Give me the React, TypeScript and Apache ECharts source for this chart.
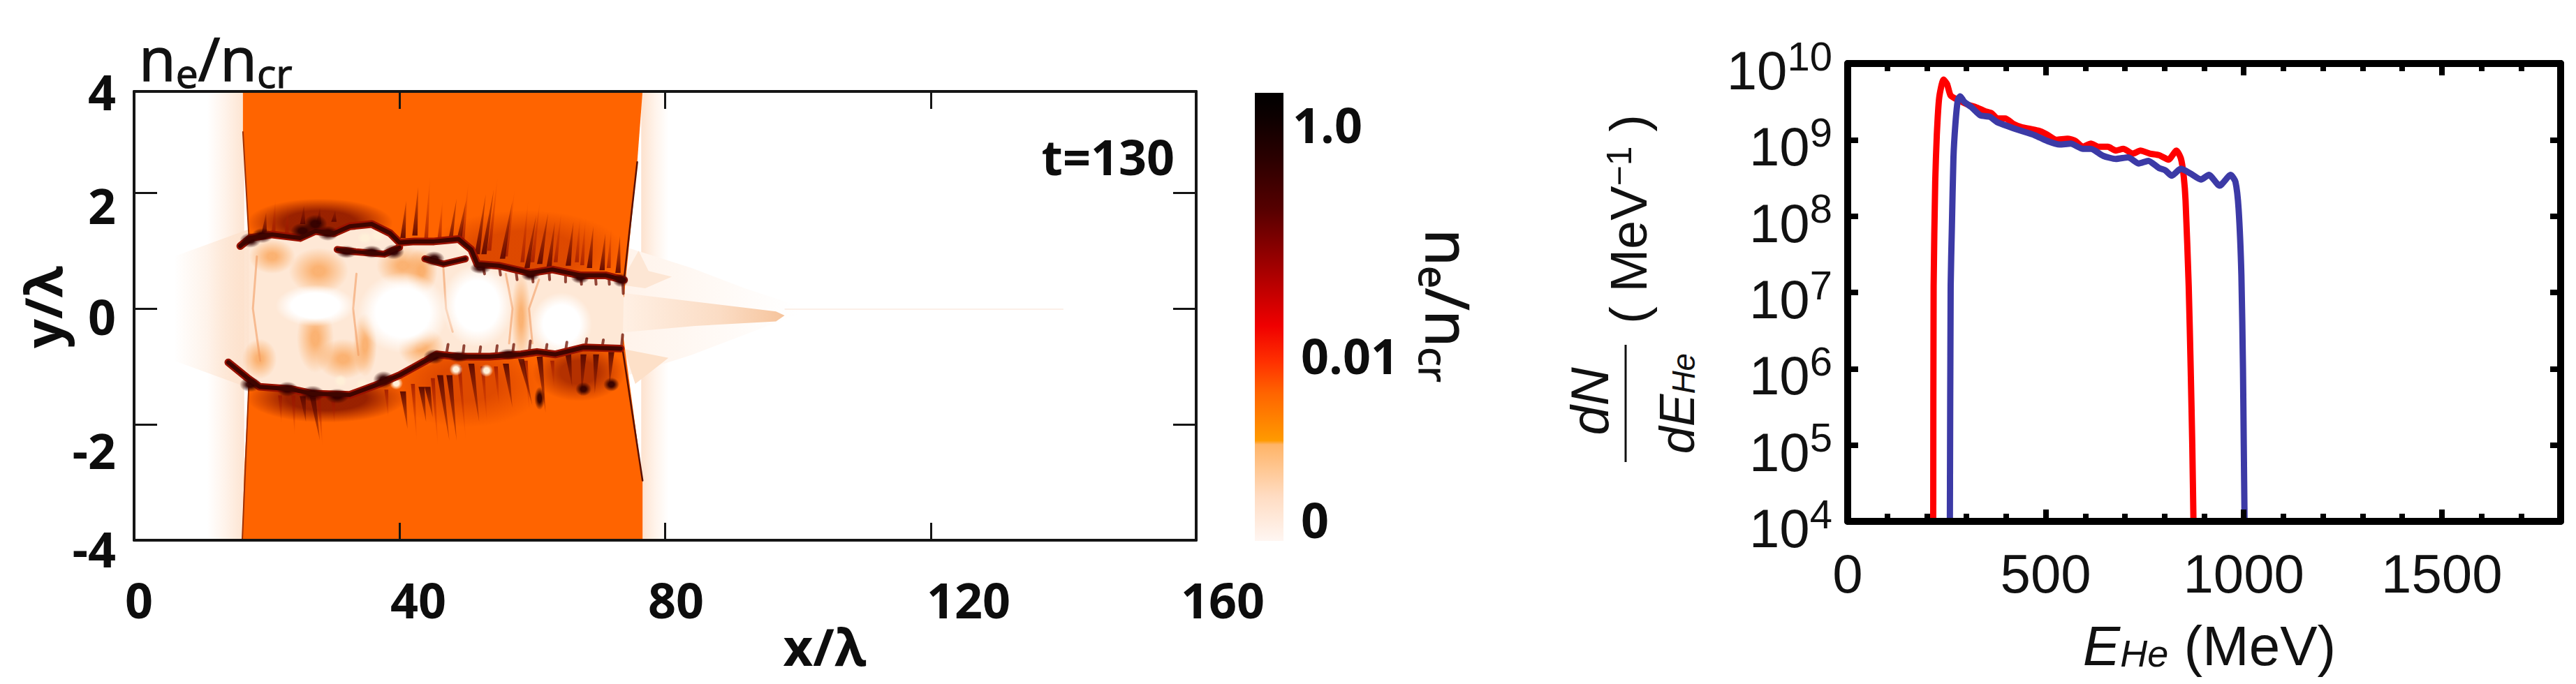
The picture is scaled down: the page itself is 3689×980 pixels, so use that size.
import React, { useEffect, useRef } from "react";
import * as echarts from "echarts";

// ---------- right panel: spectra ----------
const redEnergy = [216,217,221,225,231,242,251,260,280,304,323,347,363,378,398,418,437,481,500,527,555,575,594,614,633,657,677,696,720,739,763,786,810,830,841,848,853,861,866,870,873];
const redCounts = [1e4,1.2e7,2.8e8,1.15e9,3.55e9,6.17e9,5.37e9,3.8e9,3.3e9,2.88e9,2.69e9,2.37e9,2.24e9,1.9e9,1.9e9,1.62e9,1.48e9,1.32e9,1.2e9,1e9,1.035e9,9.66e8,8.1e8,8.9e8,8.1e8,8.1e8,7.24e8,7.6e8,6.6e8,7.24e8,6.6e8,6.3e8,5.5e8,7.24e8,5.75e8,3.47e8,1.62e8,1.2e7,1e6,1e5,1e4];
const blueEnergy = [258,260,263,267,272,278,284,294,312,335,359,378,425,472,504,535,563,594,614,645,677,708,735,759,786,802,818,841,865,892,912,939,967,979,987,994,998,1000,1002];
const blueCounts = [1e4,1.2e7,6.9e7,5.75e8,1.62e9,3.3e9,3.72e9,3.16e9,2.69e9,2.09e9,2e9,1.7e9,1.38e9,1.15e9,9.66e8,8.7e8,8.9e8,7.6e8,7.6e8,6.17e8,5.62e8,5.9e8,4.9e8,5.3e8,4.27e8,3.98e8,3.39e8,4.17e8,3.63e8,3.02e8,3.47e8,2.51e8,3.47e8,2.82e8,1.23e8,1.7e7,1e6,1e5,1e4];

// ---------- left panel: density map, outlines in (x/λ, y/λ) ----------
const xTickLabels = ["0", "40", "80", "120", "160"];
const yTickLabels = ["4", "2", "0", "-2", "-4"];
const colorbarLabels = ["1.0", "0.01", "0"];

const leftHalo = [[11,3.75],[16.6,3.75],[16.6,-4],[11,-4]];
const rightHalo = [[76.4,3.75],[80.5,3.75],[80.5,-4],[76.4,-4]];
const leftBulge = [[6,.9],[18,1.4],[18,-1.4],[6,-.9]];
const wakeGlow = [[73,1.1],[84,.7],[92,.35],[100,.05],[100,-.1],[92,-.45],[84,-.8],[73,-1.2]];
const plume = [[73.6,.27],[84.5,.12],[96.7,-.05],[98,-.12],[96.7,-.22],[84.5,-.3],[73.6,-.41]];
const centerLine = [[98,-.02],[140,-.02],[140,.0],[98,.0]];
const wingUpper = [[73.8,.55],[76,1.0],[77.5,.65],[81,.55],[77,.35],[74,.4]];
const wingLower = [[73.8,-.7],[80.5,-.85],[75.5,-1.3]];
const slabUpper = [[16.4,3.75],[16.4,3.0],[17.3,1.25],[20.8,1.0],[40,.5],[73.8,.2],[75.8,2.53],[76.6,3.75]];
const slabLower = [[16.3,-4],[16.6,-2.8],[17.3,-1.25],[40,-.5],[73.6,-.4],[76.6,-2.97],[76.6,-4]];
const topFilament = [[16,1.08],[17.5,1.22],[20.8,1.28],[25,1.22],[27.3,1.34],[30.1,1.3],[32.5,1.42],[35.8,1.46],[38.6,1.3],[40,1.14],[42.3,1.16],[45.2,1.16],[47,1.18],[48.9,1.2],[50.8,1.02],[51.7,.77],[55,.74],[59.7,.615],[63,.675],[67.2,.575],[71,.575],[73.8,.495]];
const lowerFilament = [[14.2,-.93],[17,-1.19],[18.9,-1.35],[23.6,-1.39],[26.9,-1.47],[32.5,-1.49],[36.7,-1.31],[40,-1.15],[43.8,-.91],[45.6,-.79],[48.9,-.83],[53.6,-.83],[58.3,-.79],[60.7,-.75],[63.5,-.79],[67.7,-.67],[73.3,-.69]];
const channelTop = [[17.3,1.2],[20.8,1.28],[25,1.22],[27.3,1.34],[30.1,1.3],[32.5,1.42],[35.8,1.46],[38.6,1.3],[40,1.14],[42.3,1.16],[45.2,1.16],[47,1.18],[48.9,1.2],[50.8,1.02],[51.7,.77],[55,.74],[59.7,.615],[63,.675],[67.2,.575],[71,.575],[73.8,.495]];
const channelBottom = [[73.6,-.7],[67.7,-.67],[63.5,-.79],[60.7,-.75],[58.3,-.79],[53.6,-.83],[48.9,-.83],[45.6,-.79],[43.8,-.91],[40,-1.15],[36.7,-1.31],[32.5,-1.49],[26.9,-1.47],[23.6,-1.39],[18.9,-1.35],[17.3,-1.22]];
// x, y, half-width, half-height
const upperRightZone = [59,.98,15,.72];
const lowerRightZone = [67,-1.1,7,.5];
const lowerMidZone = [50,-1.3,12,.75];
const lowerLeftZone = [29,-1.55,12,.42];
const upperLeftZone = [28,1.48,11,.42];
const blotches = [[20.8,.9,3.5,.3],[27.8,.65,4.5,.4],[27.3,-.51,2.8,.6],[31.5,-.87,4,.35],[18.9,-.87,2.6,.35],[40.5,.74,4,.35],[43.3,.65,2.4,.4],[34.8,-.63,1.8,.55],[43.3,-.67,3.5,.35],[58.3,-.15,1.5,.8]];
const cavities = [[27.3,.05,6,.36],[40.5,-.07,6.8,.7],[51.7,.05,5.4,.72],[64.4,-.27,4.6,.55]];
const lightDots = [[31.1,-1.25,1,.11],[34.4,-1.31,1,.11],[39.5,-1.29,1,.11],[48.5,-1.05,1,.11],[53.1,-1.07,1,.11],[49.4,1.06,1,.11],[34.8,1.22,1.2,.11],[36.7,1.26,1.2,.11]];
const darkSpecks = [[17.5,1.18,1.6,.13],[19.3,1.26,1.6,.13],[25.4,1.34,1.8,.14],[27.3,1.46,1.8,.16],[29.2,1.3,1.6,.13],[32,.98,1.6,.11],[35.8,.98,1.6,.11],[39.1,.98,1.6,.13],[45.2,.86,1.6,.13],[52.2,.7,1.6,.1],[59.7,.575,1.4,.1],[67.2,.53,1.4,.1],[73.3,.49,1.2,.12],[17.5,-1.31,1.6,.13],[23.1,-1.39,1.6,.13],[26.9,-1.47,1.8,.14],[30.6,-1.51,1.8,.13],[37.6,-1.23,1.6,.15],[45.2,-.83,1.6,.13],[48.9,-.83,1.6,.1],[56.4,-.79,1.6,.1],[61.1,-1.55,.8,.2],[67.7,-1.39,1.2,.12],[71.9,-1.31,1.2,.12]];
const innerFilamentA = [[30.6,1.02],[33.4,.98],[37.7,.94],[40,1.06]];
const innerFilamentB = [[43.8,.86],[46.6,.77],[49.9,.86]];
const ringA = [[18.5,.9],[17.9,0],[19,-.9]];
const ringB = [[33.5,.6],[33,0],[33.8,-.8]];
const ringC = [[46.6,.7],[47,0],[48,-.4]];
const ringD = [[56,.6],[57,0],[56.5,-.6]];
const ringE = [[61,.5],[59.5,0],[60,-.6]];
const rightEdgeUpper = [[73.8,.49],[75.8,2.53]];
const rightEdgeLower = [[73.6,-.71],[76.6,-2.97]];
const leftEdgeUpper = [[16.4,3.05],[17.3,1.25]];
const leftEdgeLower = [[17.3,-1.3],[16.3,-4]];
// root x, root y, tip x, tip y
const upperSpikes = [[19.6,1.3,19.9,1.66],[25.4,1.46,25.6,1.78],[27.8,1.46,28,1.74],[30.1,1.5,30.3,1.7],[40.5,1.22,41,1.86],[42.3,1.26,42.8,2.1],[47.5,1.06,48.6,1.9],[48.9,1.14,50,1.86],[51.7,.94,53,1.98],[52.7,.94,54.2,2.06],[55.5,.86,57,1.86],[59.2,.7,60.6,1.62],[61.1,.77,62.4,1.66],[62.5,.7,63.4,1.5],[65.4,.74,66.2,1.5],[68.6,.7,69.2,1.42],[70.5,.66,71,1.3],[72.9,.615,73.2,1.26]];
const lowerSpikes = [[25.4,-1.51,25.9,-1.96],[26.9,-1.51,28,-2.28],[40.5,-1.43,41.2,-2.08],[43.3,-1.35,44,-1.96],[44.2,-1.35,45,-1.88],[46.1,-1.15,47.5,-2.28],[47.5,-1.15,48.6,-2.28],[50.8,-.95,52,-1.96],[56,-.95,57,-1.71],[58.3,-.87,60,-1.67],[61.1,-.83,62,-1.8],[65.4,-.79,66,-1.35],[67.7,-.79,67.4,-1.51],[69.6,-.79,69.4,-1.47],[71.9,-.75,71.6,-1.35]];
const faintUpper = [[21,1.3,21.3,1.9],[23,1.3,23.2,1.8],[44,1.2,44.6,2.3],[46,1.2,46.5,1.9],[49.5,1.2,50.4,2.2],[53.5,1,54.8,2.3],[56,.9,57.4,2.1],[58.5,.8,59.4,1.9],[60,.8,61.2,1.9],[63.5,.8,64.4,1.7],[66.7,.8,67.2,1.6],[67.5,.75,68,1.55],[71.5,.7,71.9,1.4]];
const faintLower = [[22,-1.5,22.2,-2],[24,-1.5,24.2,-2.2],[27.8,-1.5,28.4,-2.4],[30,-1.6,30.2,-2],[38,-1.4,38.3,-1.9],[42,-1.3,42.6,-2.3],[45,-1.2,45.8,-2.4],[49,-1,50,-2.3],[52.5,-1,53.2,-2],[54.5,-1,55,-1.7],[59,-.9,59.6,-1.8],[63,-.9,63.3,-1.4]];
// short teeth on the inner side of the filaments: root x, root y, tip x, tip y
const innerTeeth = [[52.5,.76,52.8,.6],[55,.74,55.2,.58],[57.5,.68,57.7,.5],[60,.62,60.1,.46],[62.5,.66,62.6,.5],[65,.62,65,.46],[67.3,.58,67.4,.42],[69.5,.57,69.6,.42],[71.5,.57,71.6,.42],[73.6,.5,73.7,.26],[47,-.82,47.3,-.62],[49.5,-.83,49.7,-.64],[52,-.83,52.2,-.66],[54.5,-.82,54.7,-.64],[57,-.8,57.2,-.62],[59.5,-.77,59.7,-.56],[62,-.77,62.2,-.62],[65,-.73,65.2,-.58],[68,-.67,68.2,-.52],[70.5,-.68,70.7,-.54],[73.4,-.7,73.6,-.45]];

const ORANGE = "#ff6400";
const BOLD = "'Open Sans'";
const HELV = "'Liberation Sans'";
const lin = (stops: [number, string][], x2 = 1, y2 = 0) =>
  new echarts.graphic.LinearGradient(0, 0, x2, y2, stops.map(([offset, color]) => ({ offset, color })));
const rad = (inner: string, outer: string, hold = 0.45) =>
  new echarts.graphic.RadialGradient(0.5, 0.5, 0.5, [{ offset: 0, color: inner }, { offset: hold, color: inner }, { offset: 1, color: outer }]);

function densitySeries(): any[] {
  const shapes: any[] = [];
  const poly = (pts: number[][], fill: any) => shapes.push({ kind: "poly", pts, fill });
  const ell = (e: number[], fill: any) => shapes.push({ kind: "ell", e, fill });
  const line = (pts: number[][], stroke: string, w: number) => shapes.push({ kind: "line", pts, stroke, w });

  poly(leftHalo, lin([[0, "#ffffff"], [.45, "#fff4ec"], [1, "#fde4d1"]]));
  poly(rightHalo, lin([[0, "#fde2ce"], [.5, "#fff3ea"], [1, "#ffffff"]]));
  poly(leftBulge, lin([[0, "rgba(253,226,205,0)"], [1, "#fde2cd"]]));
  poly(wakeGlow, lin([[0, "#fff3ea"], [1, "#ffffff"]]));
  poly(centerLine, "#fbeadf");
  poly(plume, lin([[0, "#fff0e4"], [.6, "#fbdcc4"], [1, "#f6c49c"]]));
  poly(wingUpper, "#fde6d4");
  poly(wingLower, "#fde0c8");
  poly(slabUpper, ORANGE);
  poly(slabLower, ORANGE);
  ell(upperRightZone, rad("rgba(175,35,0,.42)", "rgba(175,35,0,0)", .5));
  ell(lowerRightZone, rad("rgba(130,15,0,.6)", "rgba(130,15,0,0)", .4));
  ell(lowerMidZone, rad("rgba(175,35,0,.4)", "rgba(175,35,0,0)", .4));
  ell(lowerLeftZone, rad("rgba(110,5,0,.7)", "rgba(110,5,0,0)", .5));
  ell(upperLeftZone, rad("rgba(110,5,0,.7)", "rgba(110,5,0,0)", .5));
  faintUpper.forEach((s) => poly([[s[0] - .3, s[1]], [s[2], s[3]], [s[0] + .3, s[1]]], lin([[0, "rgba(190,40,0,0)"], [1, "rgba(150,20,0,.7)"]], 0, 1)));
  faintLower.forEach((s) => poly([[s[0] - .3, s[1]], [s[2], s[3]], [s[0] + .3, s[1]]], lin([[0, "rgba(150,20,0,.75)"], [1, "rgba(190,40,0,0)"]], 0, 1)));
  upperSpikes.forEach((s) => poly([[s[0] - .4, s[1]], [s[2], s[3]], [s[0] + .4, s[1]]], lin([[0, "rgba(130,20,0,.3)"], [1, "rgba(90,5,0,.9)"]], 0, 1)));
  lowerSpikes.forEach((s) => poly([[s[0] - .45, s[1]], [s[2], s[3]], [s[0] + .45, s[1]]], lin([[0, "rgba(80,5,0,.9)"], [1, "rgba(130,20,0,.35)"]], 0, 1)));
  poly([...channelTop, ...channelBottom], "#fee8d6");
  blotches.forEach((e) => ell(e, rad("rgba(250,165,90,.8)", "rgba(250,165,90,0)", .2)));
  [ringA, ringB, ringC, ringD, ringE].forEach((r) => line(r, "rgba(240,150,90,.55)", 3));
  cavities.forEach((e) => ell(e, rad("#ffffff", "rgba(255,255,255,0)", .6)));
  lightDots.forEach((e) => ell(e, rad("#fff0d8", "rgba(255,240,216,0)", .4)));
  [rightEdgeUpper, rightEdgeLower].forEach((l) => line(l, "#5a1000", 2.5));
  [leftEdgeUpper, leftEdgeLower].forEach((l) => line(l, "#a03000", 2));
  innerTeeth.forEach((s) => line([[s[0], s[1]], [s[2], s[3]]], "rgba(110,15,0,.75)", 4));
  [topFilament, lowerFilament].forEach((l) => line(l, "#9a1200", 11));
  [innerFilamentA, innerFilamentB].forEach((l) => line(l, "#9a1200", 10));
  darkSpecks.forEach((e) => ell(e, rad("rgba(50,0,0,.95)", "rgba(50,0,0,0)", .35)));
  [topFilament, lowerFilament].forEach((l) => line(l, "#3e0500", 6));
  [innerFilamentA, innerFilamentB].forEach((l) => line(l, "#3e0500", 5));

  return [{
    type: "custom", name: "density", coordinateSystem: "cartesian2d", xAxisIndex: 0, yAxisIndex: 0,
    silent: true, clip: true, z: 2,
    data: shapes.map((_, i) => [i]),
    encode: { x: -1, y: -1 },
    renderItem: (params: any, api: any) => {
      const s = shapes[params.dataIndex];
      if (s.kind === "poly") {
        return { type: "polygon", shape: { points: s.pts.map((p: number[]) => api.coord(p)) }, style: { fill: s.fill } };
      }
      if (s.kind === "ell") {
        const c = api.coord([s.e[0], s.e[1]]);
        const sz = api.size([s.e[2], s.e[3]]);
        return { type: "ellipse", shape: { cx: c[0], cy: c[1], rx: sz[0], ry: sz[1] }, style: { fill: s.fill } };
      }
      return { type: "polyline", shape: { points: s.pts.map((p: number[]) => api.coord(p)) },
        style: { fill: "none", stroke: s.stroke, lineWidth: s.w, lineJoin: "round", lineCap: "round" } };
    },
  }];
}

function boldText(text: string, x: number, y: number, align = "center", extra: any = {}) {
  return { type: "text", x, y, z: 20, ...extra,
    style: { text, fontFamily: BOLD, fontWeight: 700, fontSize: 70, fill: "#0d0d0d", align, verticalAlign: "middle", ...(extra.style || {}) } };
}

const subRich = (size: number, fam: string) => ({
  n: { fontFamily: fam, fontSize: size, fontWeight: 400, fill: "#111", stroke: "#111", lineWidth: 1.5 },
  s: { fontFamily: fam, fontSize: Math.round(size * 0.66), fontWeight: 400, fill: "#111", stroke: "#111", lineWidth: 1.2, padding: [Math.round(size * 0.5), 0, 0, 0] },
});

export default function App() {
  const ref = useRef<HTMLDivElement>(null);
  useEffect(() => {
    document.body.style.margin = "0";
    document.body.style.overflow = "hidden";
    const chart = echarts.init(ref.current!, undefined, { renderer: "svg" });
    const frameLeft = { color: "#151515", width: 4 };
    const frameRight = { color: "#000", width: 10 };
    const xLabelPx = [199, 599, 968, 1387, 1751];
    const yLabelPy = [131, 294, 453, 645, 786];
    chart.setOption({
      animation: false,
      backgroundColor: "#ffffff",
      tooltip: { show: false },
      grid: [
        { left: 192, top: 131, width: 1521, height: 643, containLabel: false },
        { left: 2646, top: 91, width: 1021, height: 656, containLabel: false },
      ],
      xAxis: [
        { gridIndex: 0, type: "value", min: 0, max: 160, interval: 40, position: "bottom", z: 10, axisLine: { onZero: false, lineStyle: frameLeft }, axisTick: { inside: true, length: 25, lineStyle: { color: "#151515", width: 3 } }, axisLabel: { show: false }, splitLine: { show: false } },
        { gridIndex: 0, type: "value", min: 0, max: 160, interval: 40, position: "top", z: 10, axisLine: { onZero: false, lineStyle: frameLeft }, axisTick: { inside: true, length: 25, lineStyle: { color: "#151515", width: 3 } }, axisLabel: { show: false }, splitLine: { show: false } },
        { gridIndex: 1, type: "value", min: 0, max: 1800, interval: 500, position: "bottom", z: 10, axisLine: { onZero: false, lineStyle: frameRight }, axisTick: { inside: true, length: 17, lineStyle: { color: "#000", width: 8 } }, splitLine: { show: false },
          axisLabel: { margin: 36, fontFamily: HELV, fontSize: 78, color: "#111", formatter: (v: number) => (v === 1800 ? "" : String(v)) } },
        { gridIndex: 1, type: "value", min: 0, max: 1800, interval: 500, position: "top", z: 10, axisLine: { onZero: false, lineStyle: frameRight }, axisTick: { inside: true, length: 17, lineStyle: { color: "#000", width: 8 } }, axisLabel: { show: false }, splitLine: { show: false } },
        { gridIndex: 1, type: "value", min: 0, max: 1800, interval: 100, position: "bottom", z: 10, axisLine: { show: false }, axisTick: { inside: true, length: 11, lineStyle: { color: "#000", width: 8 } }, axisLabel: { show: false }, splitLine: { show: false } },
        { gridIndex: 1, type: "value", min: 0, max: 1800, interval: 100, position: "top", z: 10, axisLine: { show: false }, axisTick: { inside: true, length: 11, lineStyle: { color: "#000", width: 8 } }, axisLabel: { show: false }, splitLine: { show: false } },
      ],
      yAxis: [
        { gridIndex: 0, type: "value", min: -4, max: 3.75, interval: 2, position: "left", z: 10, axisLine: { onZero: false, lineStyle: frameLeft }, axisTick: { inside: true, length: 33, lineStyle: { color: "#151515", width: 3 } }, axisLabel: { show: false }, splitLine: { show: false } },
        { gridIndex: 0, type: "value", min: -4, max: 3.75, interval: 2, position: "right", z: 10, axisLine: { onZero: false, lineStyle: frameLeft }, axisTick: { inside: true, length: 33, lineStyle: { color: "#151515", width: 3 } }, axisLabel: { show: false }, splitLine: { show: false } },
        { gridIndex: 1, type: "log", logBase: 10, min: 1e4, max: 1e10, splitNumber: 6, position: "left", z: 10, axisLine: { onZero: false, lineStyle: frameRight }, axisTick: { inside: true, length: 15, lineStyle: { color: "#000", width: 8 } }, splitLine: { show: false },
          axisLabel: { margin: 22, align: "right",
            formatter: (v: number) => `{b|10}{s|${Math.round(Math.log10(v))}}`,
            rich: { b: { fontFamily: HELV, fontSize: 78, color: "#111", padding: [20, 0, 0, 0] }, s: { fontFamily: HELV, fontSize: 58, color: "#111", padding: [0, 0, 22, 0] } } } },
        { gridIndex: 1, type: "log", logBase: 10, min: 1e4, max: 1e10, splitNumber: 6, position: "right", z: 10, axisLine: { onZero: false, lineStyle: frameRight }, axisTick: { inside: true, length: 15, lineStyle: { color: "#000", width: 8 } }, axisLabel: { show: false }, splitLine: { show: false } },
      ],
      series: [
        ...densitySeries(),
        { type: "line", name: "red", xAxisIndex: 2, yAxisIndex: 2, showSymbol: false, silent: true, z: 3, smooth: 0.2, lineStyle: { color: "#ff0000", width: 9, join: "round" }, data: redEnergy.map((e, i) => [e, redCounts[i]]) },
        { type: "line", name: "blue", xAxisIndex: 2, yAxisIndex: 2, showSymbol: false, silent: true, z: 4, smooth: 0.2, lineStyle: { color: "#3c3aa6", width: 9, join: "round" }, data: blueEnergy.map((e, i) => [e, blueCounts[i]]) },
      ],
      graphic: [
        ...xTickLabels.map((t, i) => boldText(t, xLabelPx[i], 859)),
        ...yTickLabels.map((t, i) => boldText(t, 166, yLabelPy[i], "right")),
        boldText("x/λ", 1181, 925, "center", { style: { fontSize: 74 } }),
        boldText("y/λ", 60, 440, "center", { rotation: Math.PI / 2, style: { fontSize: 74 } }),
        boldText("t=130", 1682, 224, "right", { style: { fontSize: 70 } }),
        { type: "text", x: 199, y: 82, z: 20, style: { text: "{n|n}{s|e}{n|/n}{s|cr}", align: "left", verticalAlign: "middle", rich: subRich(86, BOLD) } },
        { type: "rect", z: 5, shape: { x: 1797, y: 133, width: 41, height: 642 }, style: { fill: lin([
          [0, "#000000"], [.05, "#0c0000"], [.15, "#2c0000"], [.26, "#560000"], [.40, "#a80000"], [.52, "#f00000"],
          [.60, "#ff3000"], [.67, "#ff6400"], [.776, "#ff9a00"], [.785, "#ffb467"], [.9, "#ffdcc2"], [1, "#fff6f2"]], 0, 1) } },
        boldText(colorbarLabels[0], 1851, 178, "left"),
        boldText(colorbarLabels[1], 1863, 509, "left"),
        boldText(colorbarLabels[2], 1863, 744, "left"),
        { type: "text", x: 2075, y: 438, z: 20, rotation: -Math.PI / 2, style: { text: "{n|n}{s|e}{n|/n}{s|cr}", align: "center", verticalAlign: "middle", rich: subRich(86, BOLD) } },
        { type: "text", x: 3164, y: 925, z: 20, style: { text: "{i|E}{h|He}{r| (MeV)}", align: "center", verticalAlign: "middle", rich: {
          i: { fontFamily: HELV, fontStyle: "italic", fontSize: 80, fill: "#111" },
          h: { fontFamily: HELV, fontStyle: "italic", fontSize: 54, fill: "#111", padding: [22, 0, 0, 0] },
          r: { fontFamily: HELV, fontSize: 80, fill: "#111" } } } },
        { type: "text", x: 2276, y: 575, z: 20, rotation: Math.PI / 2, style: { text: "dN", fontFamily: HELV, fontStyle: "italic", fontSize: 76, fill: "#111", align: "center", verticalAlign: "middle" } },
        { type: "line", z: 20, shape: { x1: 2328, y1: 494, x2: 2328, y2: 662 }, style: { stroke: "#111", lineWidth: 3 } },
        { type: "text", x: 2402, y: 578, z: 20, rotation: Math.PI / 2, style: { text: "{i|dE}{h|He}", align: "center", verticalAlign: "middle", rich: {
          i: { fontFamily: HELV, fontStyle: "italic", fontSize: 70, fill: "#111" },
          h: { fontFamily: HELV, fontStyle: "italic", fontSize: 46, fill: "#111", padding: [18, 0, 0, 0] } } } },
        { type: "text", x: 2332, y: 314, z: 20, rotation: Math.PI / 2, style: { text: "{r|( MeV}{s|−1}{r| )}", align: "center", verticalAlign: "middle", rich: {
          r: { fontFamily: HELV, fontSize: 74, fill: "#111" },
          s: { fontFamily: HELV, fontSize: 50, fill: "#111", padding: [0, 0, 26, 0] } } } },
      ],
    });
    return () => chart.dispose();
  }, []);
  return <div ref={ref} style={{ width: 3689, height: 980 }} />;
}
